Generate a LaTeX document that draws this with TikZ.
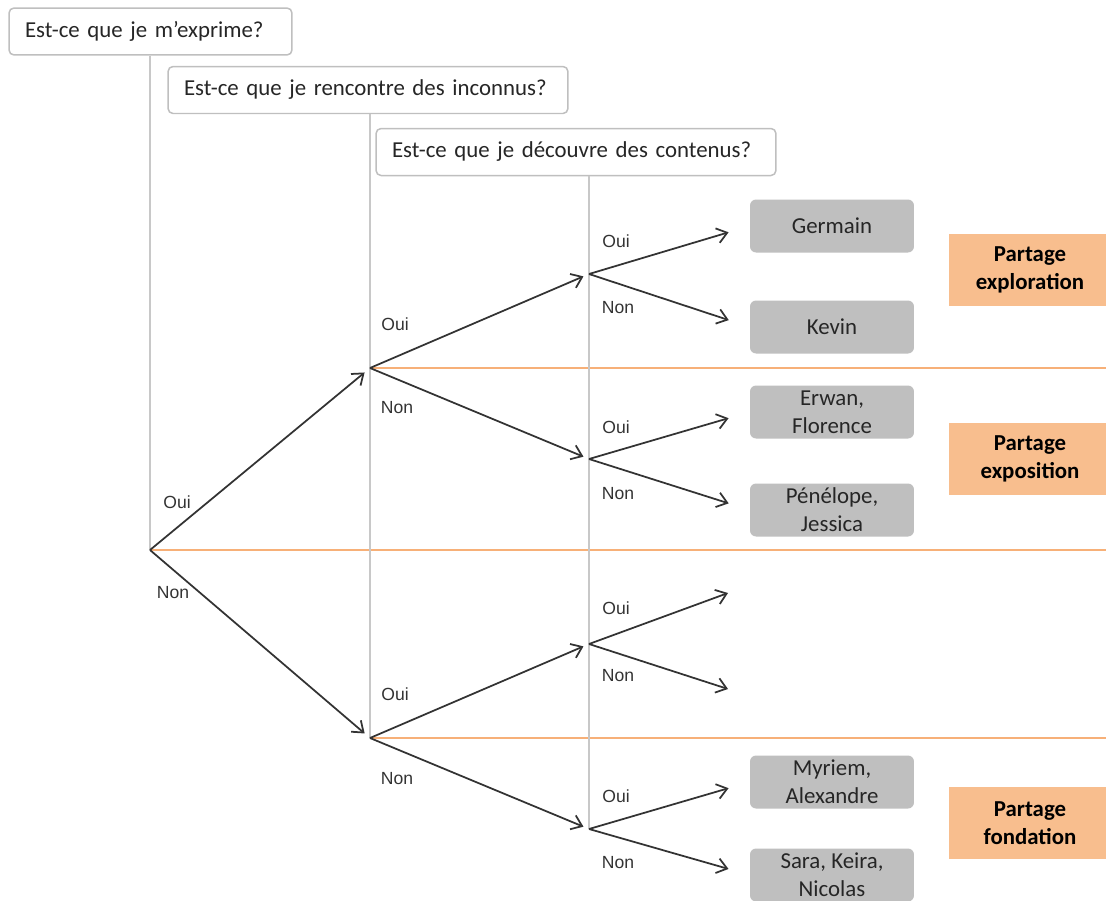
\documentclass[tikz,border=0pt]{standalone}
\usepackage{fontspec}
\setmainfont{Carlito}
\newfontfamily\answerfont{Liberation Sans}
\usetikzlibrary{arrows.meta}
\definecolor{framegray}{RGB}{191,191,191}
\definecolor{stemgray}{RGB}{200,200,200}
\definecolor{leafgray}{RGB}{191,191,191}
\definecolor{inkgray}{RGB}{38,38,38}
\definecolor{arrowgray}{RGB}{51,51,51}
\definecolor{tagorange}{RGB}{248,190,142}
\definecolor{splitorange}{RGB}{247,176,120}
\tikzstyle{question}=[draw=framegray, line width=0.03cm, rounded corners=0.1cm, fill=white, align=left, inner xsep=0.32cm, minimum height=0.94cm, text=inkgray, font=\fontsize{13}{16}\selectfont]
\tikzstyle{leaf}=[fill=leafgray, rounded corners=0.12cm, minimum width=3.28cm, minimum height=1.06cm, inner sep=0pt, align=center, text=inkgray, font=\fontsize{13}{16}\selectfont]
\tikzstyle{tag}=[fill=tagorange, minimum width=3.24cm, minimum height=1.44cm, inner sep=0pt, align=center, text=black, font=\fontsize{13}{16}\selectfont\bfseries]
\tikzstyle{answer}=[inner sep=0pt, text=arrowgray, font=\answerfont\fontsize{10}{12}\selectfont]
\tikzstyle{stem}=[draw=stemgray, line width=0.035cm]
\tikzstyle{split}=[draw=splitorange, line width=0.035cm]
\tikzstyle{branch}=[draw=arrowgray, line width=0.035cm, -{Straight Barb[length=0.2cm, width=0.3cm]}]

\begin{document}
\begin{tikzpicture}[x=0.02cm, y=-0.02cm]
            \useasboundingbox (0,0) rectangle (1106,900);

            \node[question, text width=5.02cm] (q1) at (150.5,31.5) {Est-ce que je m’exprime?};
            \node[question, text width=7.36cm] (q2) at (368,90) {Est-ce que je rencontre des inconnus?};
            \node[question, text width=7.36cm] (q3) at (576,152) {Est-ce que je découvre des contenus?};

            \coordinate (east) at (1106,0);
            \coordinate (root) at (150,550);
            \coordinate (yes) at (370,368);
            \coordinate (no) at (370,738);
            \coordinate (yesyes) at (589,274);
            \coordinate (yesno) at (589,459);
            \coordinate (noyes) at (589,644);
            \coordinate (nono) at (589,829);
            \coordinate (emptyyes) at (728,593);
            \coordinate (emptyno) at (728,689);

            \draw[split] (root) -- (root -| east);
            \draw[split] (yes) -- (yes -| east);
            \draw[split] (no) -- (no -| east);

            \draw[stem] (q1.south -| root) -- (root);
            \draw[stem] (q2.south -| no) -- (no);
            \draw[stem] (q3.south -| nono) -- (nono);

            \node[leaf] (germain) at (832,226) {Germain};
            \node[leaf] (kevin) at (832,327) {Kevin};
            \node[leaf] (erwan) at (832,412) {Erwan,\\Florence};
            \node[leaf] (penelope) at (832,510) {Pénélope,\\Jessica};
            \node[leaf] (myriem) at (832,782) {Myriem,\\Alexandre};
            \node[leaf] (sara) at (832,875) {Sara, Keira,\\Nicolas};

            \node[tag] (exploration) at (1030,270) {Partage\\exploration};
            \node[tag] (exposition) at (1030,459) {Partage\\exposition};
            \node[tag] (fondation) at (1030,823) {Partage\\fondation};

            \draw[branch, shorten >=0.14cm] (root) -- (yes);
            \draw[branch, shorten >=0.14cm] (root) -- (no);
            \draw[branch, shorten >=0.12cm] (yes) -- (yesyes);
            \draw[branch, shorten >=0.12cm] (yes) -- (yesno);
            \draw[branch, shorten >=0.12cm] (no) -- (noyes);
            \draw[branch, shorten >=0.12cm] (no) -- (nono);

            \draw[branch, shorten >=0.44cm] (yesyes) -- (germain.west);
            \draw[branch, shorten >=0.44cm] (yesyes) -- (kevin.west);
            \draw[branch, shorten >=0.44cm] (yesno) -- (erwan.west);
            \draw[branch, shorten >=0.44cm] (yesno) -- (penelope.west);
            \draw[branch] (noyes) -- (emptyyes);
            \draw[branch] (noyes) -- (emptyno);
            \draw[branch, shorten >=0.44cm] (nono) -- (myriem.west);
            \draw[branch, shorten >=0.44cm] (nono) -- (sara.west);

            \node[answer] (rootoui) at (177,502) {Oui};
            \node[answer] (rootnon) at (173,593) {Non};
            \node[answer] (yesoui) at (395,324) {Oui};
            \node[answer] (yesnon) at (397,408) {Non};
            \node[answer] (nooui) at (395,694) {Oui};
            \node[answer] (nonon) at (397,779) {Non};
            \node[answer] (yesyesoui) at (616,241) {Oui};
            \node[answer] (yesyesnon) at (618,308) {Non};
            \node[answer] (yesnooui) at (616,427) {Oui};
            \node[answer] (yesnonon) at (618,494) {Non};
            \node[answer] (noyesoui) at (616,608) {Oui};
            \node[answer] (noyesnon) at (618,676) {Non};
            \node[answer] (nonooui) at (616,796) {Oui};
            \node[answer] (crossnon) at (618,863) {Non};
        \end{tikzpicture}
\end{document}
